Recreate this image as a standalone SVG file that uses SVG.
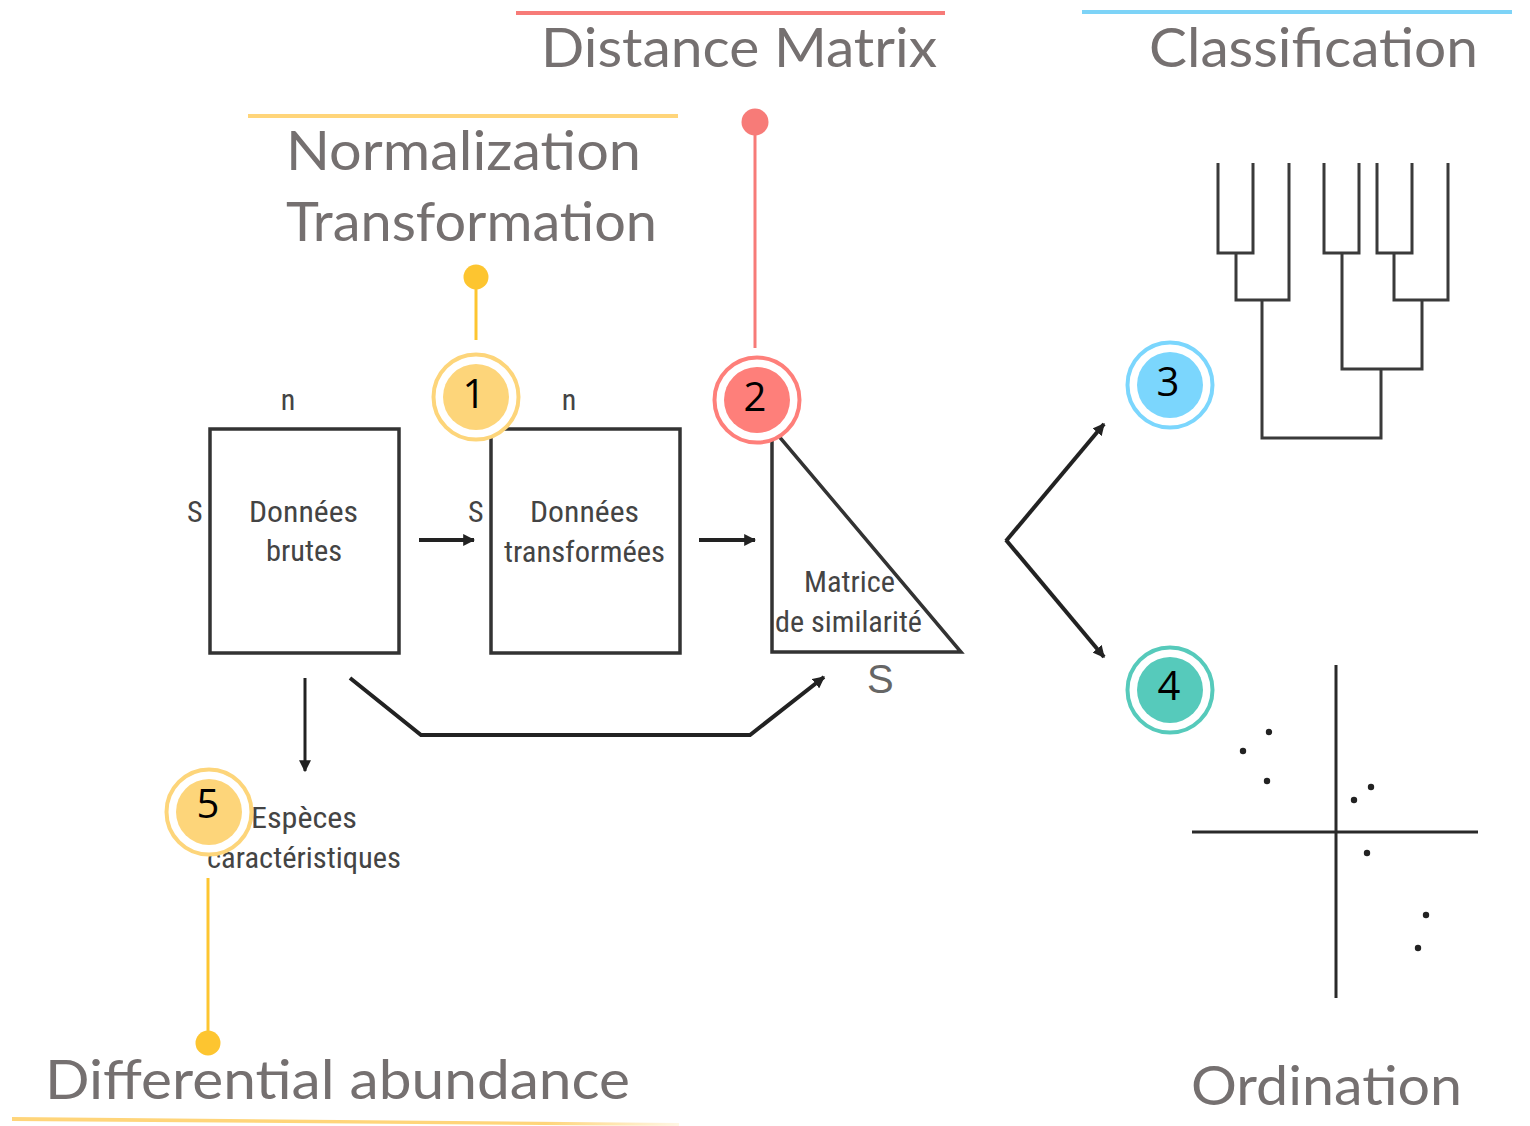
<svg xmlns="http://www.w3.org/2000/svg" width="1530" height="1126" viewBox="0 0 1530 1126">
<style>
.title{font-family:Lato,"Noto Sans",sans-serif;font-size:54px;fill:#757070;}
.lbl{font-family:"Liberation Sans Narrow","Roboto Condensed","Liberation Sans",sans-serif;font-size:30px;fill:#444;}
.num{font-family:"Open Sans","Noto Sans",sans-serif;font-size:40px;fill:#000;text-anchor:middle;}
.box{fill:#fff;stroke:#333;stroke-width:3.5;}
.tree{fill:none;stroke:#3a3a3a;stroke-width:3;}
.conn{fill:none;stroke:#222;stroke-width:4;}
.thin{fill:none;stroke:#222;stroke-width:3;}
</style>
<defs>
<marker id="ah" viewBox="0 0 10 10" refX="9" refY="5" markerWidth="12" markerHeight="12" markerUnits="userSpaceOnUse" orient="auto">
<path d="M0,0 L10,5 L0,10 z" fill="#222"/>
</marker>
<linearGradient id="fade" x1="0" y1="0" x2="1" y2="0">
<stop offset="0" stop-color="#ffd57a"/>
<stop offset="0.8" stop-color="#ffd57a"/>
<stop offset="1" stop-color="#ffd57a" stop-opacity="0.2"/>
</linearGradient>
</defs>
<rect width="1530" height="1126" fill="#fff"/>

<g id="header-distance">
<line x1="516" y1="13" x2="945" y2="13" stroke="#f77b78" stroke-width="4"/>
<text class="title" x="541" y="67" textLength="396" lengthAdjust="spacingAndGlyphs">Distance Matrix</text>
</g>
<g id="header-classification">
<line x1="1082" y1="12" x2="1512" y2="12" stroke="#7dd3f7" stroke-width="4"/>
<text class="title" x="1149" y="67" textLength="329" lengthAdjust="spacingAndGlyphs">Classification</text>
</g>
<g id="header-normalization">
<line x1="248" y1="116" x2="678" y2="116" stroke="#ffd57a" stroke-width="4"/>
<text class="title" x="286" y="170" textLength="355" lengthAdjust="spacingAndGlyphs">Normalization</text>
<text class="title" x="286" y="241" textLength="371" lengthAdjust="spacingAndGlyphs">Transformation</text>
</g>
<g id="header-differential">
<text class="title" x="45" y="1099" textLength="585" lengthAdjust="spacingAndGlyphs">Differential abundance</text>
<path d="M12,1117 L679,1123 L679,1126 L12,1121 z" fill="url(#fade)"/>
</g>
<g id="header-ordination">
<text class="title" x="1191" y="1105" textLength="271" lengthAdjust="spacingAndGlyphs">Ordination</text>
</g>

<g id="connectors">
<line x1="476" y1="277" x2="476" y2="340" stroke="#fdc530" stroke-width="3"/>
<circle cx="476" cy="277" r="12.5" fill="#fdc530"/>
<line x1="755" y1="122" x2="755" y2="348" stroke="#f77b78" stroke-width="3"/>
<circle cx="755" cy="122" r="13.5" fill="#f77b78"/>
<line x1="208" y1="878" x2="208" y2="1043" stroke="#fdc530" stroke-width="3"/>
<circle cx="208" cy="1043" r="12.5" fill="#fdc530"/>
<line class="conn" x1="419" y1="540" x2="474" y2="540" marker-end="url(#ah)"/>
<line class="conn" x1="699" y1="540" x2="755" y2="540" marker-end="url(#ah)"/>
<line class="thin" x1="305" y1="678" x2="305" y2="771" marker-end="url(#ah)"/>
<polyline class="conn" points="350,678 421,735 750,735 824,677" marker-end="url(#ah)"/>
<polyline class="conn" points="1006,541 1104,424" marker-end="url(#ah)"/>
<polyline class="conn" points="1006,540 1104,657" marker-end="url(#ah)"/>
</g>

<g id="node-raw">
<rect class="box" x="210" y="429" width="189" height="224"/>
<text class="lbl" x="288" y="410" text-anchor="middle">n</text>
<text class="lbl" x="187" y="522">S</text>
<text class="lbl" x="249" y="522" textLength="109" lengthAdjust="spacingAndGlyphs">Données</text>
<text class="lbl" x="266" y="561" textLength="76" lengthAdjust="spacingAndGlyphs">brutes</text>
</g>
<g id="node-transformed">
<rect class="box" x="491" y="429" width="189" height="224"/>
<text class="lbl" x="569" y="410" text-anchor="middle">n</text>
<text class="lbl" x="468" y="522">S</text>
<text class="lbl" x="530" y="522" textLength="109" lengthAdjust="spacingAndGlyphs">Données</text>
<text class="lbl" x="504" y="562" textLength="161" lengthAdjust="spacingAndGlyphs">transformées</text>
</g>
<g id="node-matrix">
<polygon class="box" points="772,428 772,652 961,652"/>
<text class="lbl" x="804" y="592" textLength="91" lengthAdjust="spacingAndGlyphs">Matrice</text>
<text class="lbl" x="775" y="632" textLength="147" lengthAdjust="spacingAndGlyphs">de similarité</text>
<text x="867" y="693" style="font-family:'Liberation Sans',sans-serif;font-size:40px;fill:#666;">S</text>
</g>
<g id="node-species">
<text class="lbl" x="251" y="828" textLength="106" lengthAdjust="spacingAndGlyphs">Espèces</text>
<text class="lbl" x="207" y="868" textLength="194" lengthAdjust="spacingAndGlyphs">caractéristiques</text>
</g>

<g id="node-dendrogram">
<path class="tree" d="M1218,163 V253 H1253 V163 M1236,253 V300 H1289 V163 M1324,163 V253 H1359 V163 M1377,163 V253 H1412 V163 M1394,253 V300 H1448 V163 M1342,253 V369 H1422 V300 M1262,300 V438 H1381 V369"/>
</g>
<g id="node-ordination">
<line x1="1336" y1="665" x2="1336" y2="998" stroke="#2a2a2a" stroke-width="3"/>
<line x1="1192" y1="832" x2="1478" y2="832" stroke="#2a2a2a" stroke-width="3"/>
<g fill="#222">
<circle cx="1269" cy="732" r="3.2"/>
<circle cx="1243" cy="751" r="3.2"/>
<circle cx="1267" cy="781" r="3.2"/>
<circle cx="1371" cy="787" r="3.2"/>
<circle cx="1354" cy="800" r="3.2"/>
<circle cx="1367" cy="853" r="3.2"/>
<circle cx="1426" cy="915" r="3.2"/>
<circle cx="1418" cy="948" r="3.2"/>
</g>
</g>

<g id="badge-1">
<circle cx="476" cy="397" r="42.5" fill="#fff" stroke="#fdd57a" stroke-width="4"/>
<circle cx="476" cy="397" r="33" fill="#fdd57a"/>
<text class="num" x="474" y="408">1</text>
</g>
<g id="badge-2">
<circle cx="757" cy="400" r="42.5" fill="#fff" stroke="#fe7f7a" stroke-width="4"/>
<circle cx="757" cy="400" r="33" fill="#fe7f7a"/>
<text class="num" x="755" y="411">2</text>
</g>
<g id="badge-3">
<circle cx="1170" cy="385" r="42.5" fill="#fff" stroke="#7bd6fd" stroke-width="4"/>
<circle cx="1170" cy="385" r="33" fill="#7bd6fd"/>
<text class="num" x="1168" y="396">3</text>
</g>
<g id="badge-4">
<circle cx="1170" cy="690" r="42.5" fill="#fff" stroke="#56cabb" stroke-width="4"/>
<circle cx="1170" cy="690" r="33" fill="#56cabb"/>
<text class="num" x="1169" y="700">4</text>
</g>
<g id="badge-5">
<circle cx="209" cy="812" r="42.5" fill="#fff" stroke="#fdd57a" stroke-width="4"/>
<circle cx="209" cy="812" r="33" fill="#fdd57a"/>
<text class="num" x="208" y="818">5</text>
</g>
</svg>
